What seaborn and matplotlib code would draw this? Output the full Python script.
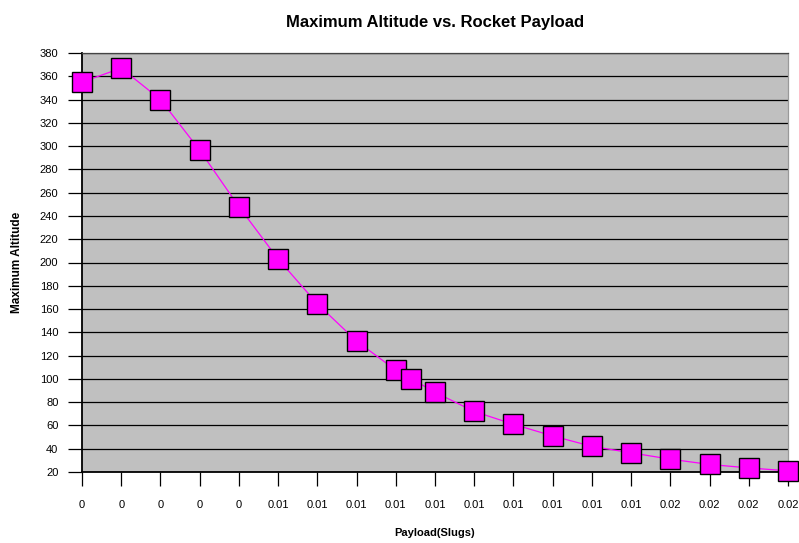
import matplotlib
matplotlib.use('Agg')
import matplotlib.pyplot as plt
import seaborn as sns
import numpy as np
from matplotlib.ticker import FuncFormatter, MultipleLocator

# payload in slugs, altitude
payload = [0.0, 0.00105, 0.0021, 0.00315, 0.0042, 0.00525, 0.0063, 0.00735,
           0.0084, 0.00882, 0.00945, 0.0105, 0.01155, 0.0126, 0.01365,
           0.0147, 0.01575, 0.0168, 0.01785, 0.0189]
altitude = [355, 367, 340, 296.5, 248, 203, 164.5, 132.5, 107.5, 100, 88.5,
            72, 61, 51, 42, 36.5, 31, 26.5, 23.5, 21]
x_step = 0.00105

sns.set_style("white")
plt.rcParams['font.family'] = ['Liberation Sans', 'DejaVu Sans']
plt.rcParams['text.color'] = 'black'
plt.rcParams['axes.labelcolor'] = 'black'
plt.rcParams['xtick.color'] = 'black'
plt.rcParams['ytick.color'] = 'black'

fig = plt.figure(figsize=(7.99, 5.43), dpi=100)
ax = fig.add_axes([82 / 799, 1 - 472 / 543, (788 - 82) / 799, (472 - 53) / 543])
ax.set_facecolor('#C0C0C0')

sns.lineplot(x=payload, y=altitude, ax=ax, color='#FF00FF', linewidth=0.9,
             marker='s', markersize=14, markerfacecolor='#FF00FF',
             markeredgecolor='black', markeredgewidth=1.0, clip_on=False,
             zorder=5)

ax.set_xlim(0, 18 * x_step)
ax.set_ylim(20, 380)
ax.yaxis.set_major_locator(MultipleLocator(20))
ax.xaxis.set_major_locator(MultipleLocator(x_step))
ax.xaxis.set_major_formatter(FuncFormatter(lambda v, p: f"{round(v, 2):g}"))

ax.grid(axis='y', color='black', linewidth=0.9)
ax.grid(axis='x', visible=False)
ax.set_axisbelow(True)

for side in ['left', 'bottom']:
    ax.spines[side].set_color('black')
    ax.spines[side].set_linewidth(1.3)
ax.spines['top'].set_color('#444444')
ax.spines['top'].set_linewidth(0.9)
ax.spines['right'].set_color('#999999')
ax.spines['right'].set_linewidth(0.9)

ax.tick_params(axis='y', direction='out', length=10, width=0.9,
               pad=7, labelsize=8, left=True)
ax.tick_params(axis='x', direction='out', length=10, width=0.9,
               pad=10, labelsize=8, bottom=True)

ax.set_title("Maximum Altitude vs. Rocket Payload", fontsize=12,
             fontweight='bold', pad=19)
ax.set_xlabel("Payload(Slugs)", fontsize=8, fontweight='bold', labelpad=13)
ax.set_ylabel("Maximum Altitude", fontsize=8.5, fontweight='bold', labelpad=12)

plt.savefig("out.png", dpi=100)
plt.close()
